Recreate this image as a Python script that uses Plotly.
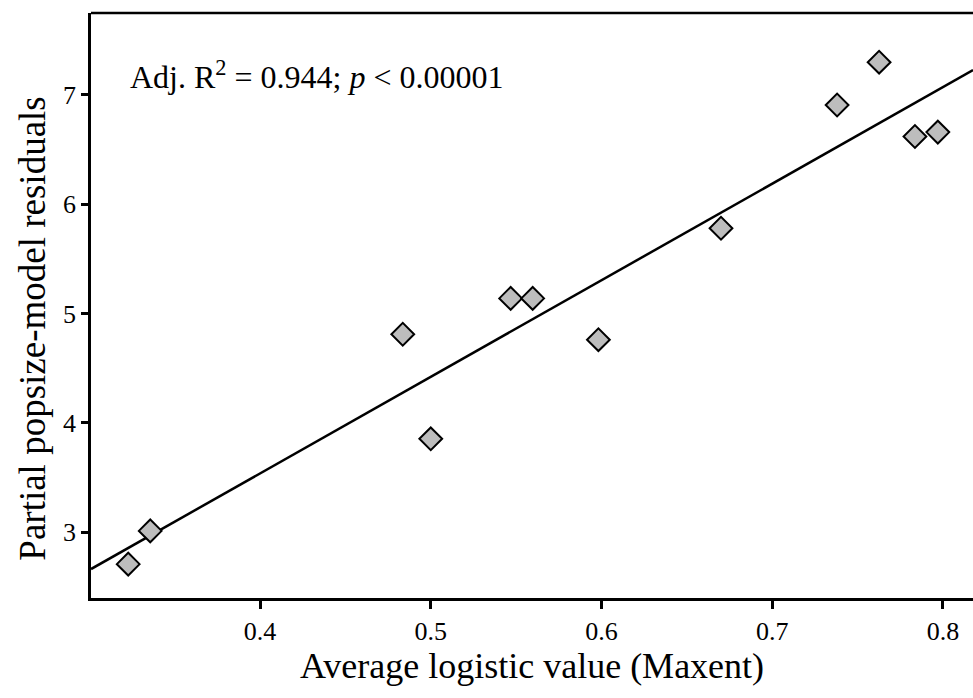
import plotly.graph_objects as go

# Data
logistic_value = [0.3228, 0.3357, 0.4836, 0.5000, 0.5468, 0.5597, 0.5982, 0.6700, 0.7380, 0.7626, 0.7836, 0.7970]
residuals = [2.706, 3.010, 4.810, 3.853, 5.138, 5.138, 4.760, 5.780, 6.908, 7.300, 6.620, 6.660]

# Regression line
fit_slope = 8.84
fit_intercept = 0.0
fit_x = [0.301, 0.8176]
fit_y = [fit_intercept + fit_slope * v for v in fit_x]

x_ticks = [0.4, 0.5, 0.6, 0.7, 0.8]
y_ticks = [3, 4, 5, 6, 7]

x_title = "Average logistic value (Maxent)"
y_title = "Partial popsize-model residuals"
stats_text = "Adj. R<sup>2</sup> = 0.944; <i>p</i> < 0.00001"

FONT = "Liberation Serif"

fig = go.Figure()
fig.add_trace(go.Scatter(
    x=fit_x, y=fit_y, mode="lines",
    line=dict(color="black", width=2.5),
    hoverinfo="skip", showlegend=False,
))
fig.add_trace(go.Scatter(
    x=logistic_value, y=residuals, mode="markers",
    marker=dict(symbol="diamond", size=17.5, color="#bdbdbd",
                line=dict(color="black", width=2)),
    showlegend=False,
))

fig.update_layout(
    width=973, height=698,
    margin=dict(l=91, r=0, t=13, b=100),
    plot_bgcolor="white", paper_bgcolor="white",
    font=dict(family=FONT, color="black"),
    xaxis=dict(
        range=[0.301, 0.8176], tickvals=x_ticks,
        ticktext=[f"{v:.1f}" for v in x_ticks],
        showgrid=False, zeroline=False,
        showline=True, linecolor="black", linewidth=2.5,
        ticks="outside", ticklen=8, tickwidth=2.5, tickcolor="black",
        tickfont=dict(family=FONT, size=26),
        title=dict(text=x_title, font=dict(family=FONT, size=36), standoff=8),
    ),
    yaxis=dict(
        range=[2.396, 7.75], tickvals=y_ticks,
        showgrid=False, zeroline=False,
        showline=True, linecolor="black", linewidth=2.5,
        ticks="outside", ticklen=7, tickwidth=2.5, tickcolor="black",
        tickfont=dict(family=FONT, size=26),
    ),
    shapes=[dict(type="line", xref="paper", yref="paper",
                 x0=0, x1=1, y0=1, y1=1,
                 line=dict(color="black", width=2.5))],
    annotations=[
        dict(text=stats_text,
             xref="paper", yref="paper", x=0.042, y=0.894,
             xanchor="left", yanchor="middle", showarrow=False,
             font=dict(family=FONT, size=32, color="black")),
        dict(text=y_title, textangle=-90,
             xref="paper", yref="paper", x=-0.066, y=0.46,
             xanchor="center", yanchor="middle", showarrow=False,
             font=dict(family=FONT, size=37, color="black")),
    ],
)

fig.write_html("out.html", config={"displayModeBar": False})

# remove default browser body margin so the figure sits at the page origin
with open("out.html", "r", encoding="utf-8") as f:
    html = f.read()
html = html.replace("<head>", "<head><style>html,body{margin:0;padding:0;overflow:hidden;}</style>", 1)
with open("out.html", "w", encoding="utf-8") as f:
    f.write(html)
